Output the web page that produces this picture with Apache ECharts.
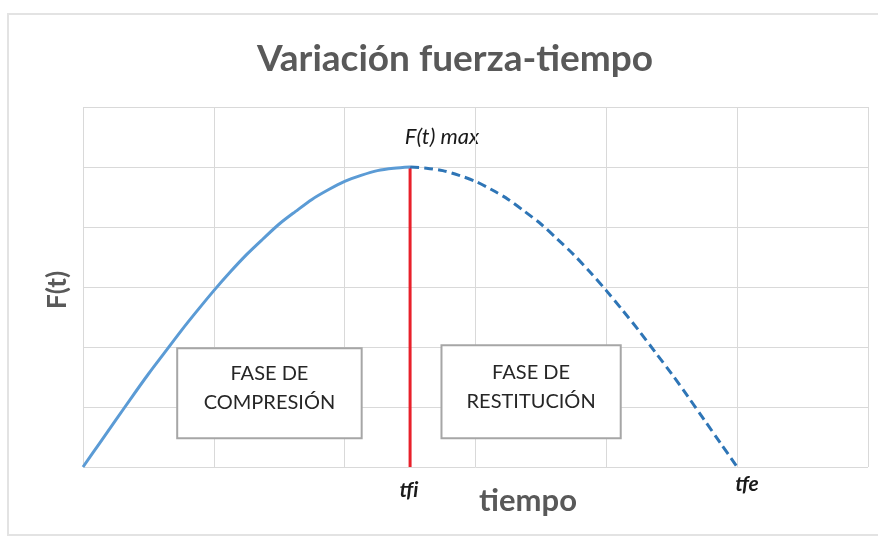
<!DOCTYPE html>
<html>
<head>
<meta charset="utf-8">
<script src="https://cdn.jsdelivr.net/npm/echarts@6/dist/echarts.min.js"></script>
<style>
  html, body { margin: 0; padding: 0; background: #fff; }
  #chart { width: 878px; height: 536px; }
</style>
</head>
<body>
<div id="chart"></div>
<script>
// valores (t, F)
const compresion = [
    [0, 0], [0.125, 0.39], [0.25, 0.78], [0.375, 1.17], [0.5, 1.55], [0.625, 1.91],
    [0.75, 2.27], [0.875, 2.61], [1, 2.94], [1.125, 3.25], [1.25, 3.54], [1.375, 3.8],
    [1.5, 4.05], [1.625, 4.26], [1.75, 4.46], [1.875, 4.62], [2, 4.76], [2.125, 4.86],
    [2.25, 4.94], [2.375, 4.98], [2.5, 5]
]
const restitucion = [
    [2.5, 5], [2.625, 4.98], [2.75, 4.94], [2.875, 4.86], [3, 4.76], [3.125, 4.62],
    [3.25, 4.46], [3.375, 4.26], [3.5, 4.05], [3.625, 3.8], [3.75, 3.54], [3.875, 3.25],
    [4, 2.94], [4.125, 2.61], [4.25, 2.27], [4.375, 1.91], [4.5, 1.55], [4.625, 1.17],
    [4.75, 0.78], [4.875, 0.39], [5, 0]
]
const tfiLine = [[2.5, 0], [2.5, 5]]
const boxCompresion = [[0.72, 0.48], [2.13, 1.98]]
const boxRestitucion = [[2.74, 0.48], [4.11, 2.03]]

const FONT = "Lato"

const myChart = echarts.init(document.getElementById("chart"))

const boxStyle = {
    color: "#ffffff",
    borderColor: "#a6a6a6",
    borderWidth: 2
}
const boxLabel = {
    show: true,
    position: "inside",
    color: "#262626",
    fontFamily: FONT,
    fontSize: 20,
    lineHeight: 29,
    offset: [0, -5]
}

const option = {
    animation: false,
    title: {
        text: "Variación fuerza-tiempo",
        left: 450,
        textAlign: "center",
        top: 36,
        textStyle: {
            fontFamily: FONT,
            fontWeight: "bold",
            fontSize: 37,
            color: "#595959"
        }
    },
    grid: { left: 83, right: 10, top: 107, bottom: 69 },
    xAxis: {
        type: "value",
        min: 0,
        max: 6,
        interval: 1,
        axisLine: { show: false },
        axisTick: { show: false },
        axisLabel: { show: false },
        splitLine: { show: true, lineStyle: { color: "#d9d9d9", width: 1 } }
    },
    yAxis: {
        type: "value",
        min: 0,
        max: 6,
        interval: 1,
        axisLine: { show: false },
        axisTick: { show: false },
        axisLabel: { show: false },
        splitLine: { show: true, lineStyle: { color: "#d9d9d9", width: 1 } }
    },
    series: [
        {
            type: "line",
            data: compresion,
            smooth: 0.3,
            symbol: "none",
            lineStyle: { color: "#5b9bd5", width: 3 },
            markArea: {
                silent: true,
                itemStyle: boxStyle,
                label: boxLabel,
                data: [[
                    { name: "FASE DE\nCOMPRESIÓN", coord: boxCompresion[0] },
                    { coord: boxCompresion[1] }
                ], [
                    { name: "FASE DE\nRESTITUCIÓN", coord: boxRestitucion[0] },
                    { coord: boxRestitucion[1] }
                ]]
            }
        },
        {
            type: "line",
            data: restitucion,
            smooth: 0.3,
            symbol: "none",
            lineStyle: { color: "#2e75b6", width: 3, type: [9, 5] }
        },
        {
            type: "line",
            data: tfiLine,
            symbol: "none",
            z: 1,
            lineStyle: { color: "#e8202a", width: 3 }
        }
    ],
    graphic: [
        {
            type: "rect",
            shape: { x: 8, y: 14, width: 900, height: 521 },
            style: { fill: "none", stroke: "#e3e3e3", lineWidth: 2 },
            silent: true
        },
        {
            type: "text",
            x: 442, y: 137,
            style: {
                text: "F(t) max", fontFamily: FONT, fontStyle: "italic", fontSize: 22,
                fill: "#1a1a1a", align: "center", verticalAlign: "middle"
            }
        },
        {
            type: "text",
            x: 409, y: 490,
            style: {
                // ZWNJ evita la ligadura "fi"
                text: "tf\u200Ci", fontFamily: FONT, fontStyle: "italic", fontWeight: "bold",
                fontSize: 21, fill: "#1a1a1a", align: "center", verticalAlign: "middle"
            }
        },
        {
            type: "text",
            x: 747, y: 484,
            style: {
                text: "tfe", fontFamily: FONT, fontStyle: "italic", fontWeight: "bold",
                fontSize: 21, fill: "#1a1a1a", align: "center", verticalAlign: "middle"
            }
        },
        {
            type: "text",
            x: 528, y: 501,
            style: {
                text: "tiempo", fontFamily: FONT, fontWeight: "bold", fontSize: 31,
                fill: "#595959", align: "center", verticalAlign: "middle"
            }
        },
        {
            type: "text",
            x: 58, y: 290,
            rotation: Math.PI / 2,
            style: {
                text: "F(t)", fontFamily: FONT, fontWeight: "bold", fontSize: 26,
                fill: "#595959", align: "center", verticalAlign: "middle"
            }
        }
    ]
}

myChart.setOption(option)
</script>
</body>
</html>
